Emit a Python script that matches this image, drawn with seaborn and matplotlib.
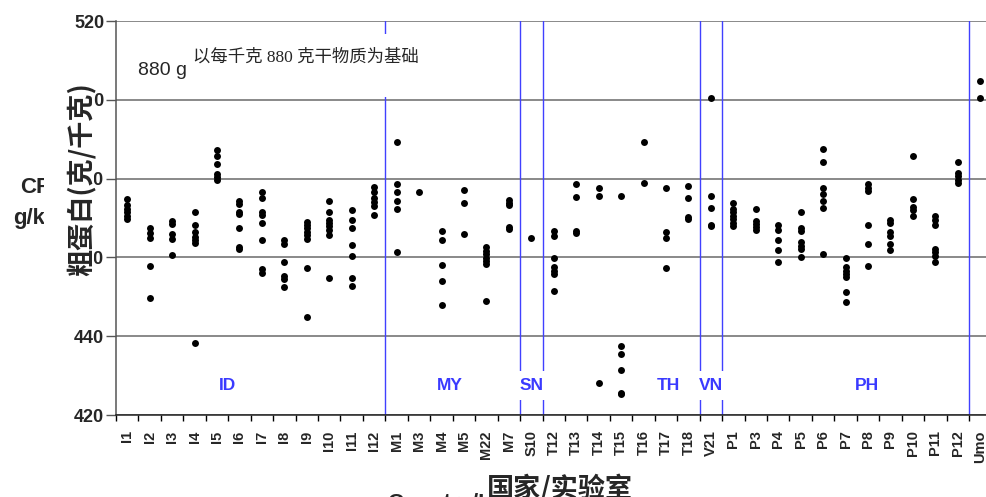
import matplotlib
matplotlib.use("Agg")
import matplotlib.pyplot as plt
import seaborn as sns
import pandas as pd
import numpy as np
from matplotlib.patches import Rectangle

# ---------------- data ----------------
labs = ["I1", "I2", "I3", "I4", "I5", "I6", "I7", "I8", "I9", "I10", "I11", "I12",
        "M1", "M3", "M4", "M5", "M22", "M7", "S10",
        "T12", "T13", "T14", "T15", "T16", "T17", "T18", "V21",
        "P1", "P3", "P4", "P5", "P6", "P7", "P8", "P9", "P10", "P11", "P12", "Umo"]

I1 = [474.7, 473.4, 472.4, 471.5, 470.6, 469.8]
I2 = [467.4, 466.2, 465.0, 457.9, 449.7]
I3 = [469.3, 468.5, 465.9, 464.6, 460.7]
I4 = [471.4, 468.2, 466.4, 465.3, 464.4, 463.6, 438.2]
I5 = [487.2, 485.7, 483.6, 481.1, 480.3, 479.6]
I6 = [474.3, 473.6, 471.6, 471.1, 467.5, 462.6, 462.1]
I7 = [476.5, 475.2, 471.6, 470.8, 468.7, 464.3, 457.0, 456.0]
I8 = [464.3, 463.5, 458.9, 455.3, 454.5, 452.6]
I9 = [469.1, 468.2, 467.4, 466.5, 465.7, 464.7, 457.4, 445.0]
I10 = [474.2, 471.4, 469.6, 468.7, 467.9, 467.0, 465.7, 454.8]
I11 = [472.1, 469.6, 467.4, 463.1, 460.4, 454.7, 452.8]
I12 = [477.9, 476.5, 475.2, 474.0, 473.0, 470.8]
M1 = [489.4, 478.7, 476.7, 474.3, 472.3, 461.3]
M3 = [476.7]
M4 = [466.7, 464.5, 458.1, 454.0, 447.9]
M5 = [477.0, 473.8, 466.0]
M22 = [462.6, 461.6, 460.8, 459.9, 459.1, 458.2, 448.9]
M7 = [474.5, 473.8, 473.2, 467.7, 467.3]
S10 = [464.8]
T12 = [466.8, 465.4, 459.9, 457.6, 456.6, 455.9, 451.4]
T13 = [478.7, 475.3, 466.7, 466.2]
T14 = [477.7, 475.7, 428.1]
T15 = [475.7, 437.5, 435.5, 431.3, 425.7, 425.3]
T16 = [489.2, 478.9]
T17 = [477.7, 466.4, 465.0, 457.4]
T18 = [478.1, 475.2, 470.3, 469.7]
V21 = [500.4, 475.7, 472.5, 468.2, 467.9]
P1 = [473.8, 472.3, 471.4, 470.6, 469.7, 468.7, 467.9]
P3 = [472.3, 469.2, 468.4, 467.7, 467.0]
P4 = [468.2, 467.0, 464.5, 461.8, 458.9]
P5 = [471.4, 467.5, 466.7, 464.0, 463.0, 462.1, 460.1]
P6 = [487.5, 484.3, 477.7, 476.2, 474.3, 472.5, 460.9]
P7 = [459.8, 457.5, 456.5, 455.8, 455.0, 451.1, 448.6]
P8 = [478.6, 477.7, 476.9, 468.2, 463.5, 457.9]
P9 = [469.4, 468.7, 466.4, 465.5, 463.3, 461.9]
P10 = [485.8, 474.7, 472.8, 472.1, 470.6]
P11 = [470.4, 469.6, 468.1, 462.1, 461.4, 460.4, 458.9]
P12 = [484.3, 481.4, 480.6, 479.6, 478.9]
Umo = [504.7, 500.4]

values = [I1, I2, I3, I4, I5, I6, I7, I8, I9, I10, I11, I12,
          M1, M3, M4, M5, M22, M7, S10,
          T12, T13, T14, T15, T16, T17, T18, V21,
          P1, P3, P4, P5, P6, P7, P8, P9, P10, P11, P12, Umo]

group_names = ["ID", "MY", "SN", "TH", "VN", "PH"]
group_label_pos = [4.45, 14.35, 18.0, 24.1, 26.0, 32.95]
group_bounds = [11.5, 17.5, 18.5, 25.5, 26.5, 37.5]

yticks = [420, 440, 460, 480, 500, 520]

df = pd.DataFrame({
    "lab": [lab for lab, vals in zip(labs, values) for _ in vals],
    "cp": [v for vals in values for v in vals],
})

# ---------------- figure ----------------
sns.set_style("white")
plt.rcParams["font.family"] = ["Liberation Sans", "DejaVu Sans"]

W, H = 986, 497
fig = plt.figure(figsize=(W / 100, H / 100), dpi=100)


def fx(x):
    return x / W


def fy(y):
    return 1 - y / H


ax_left, ax_right, ax_top, ax_bot = 116, 991.5, 21, 415
ax = fig.add_axes([fx(ax_left), fy(ax_bot), (ax_right - ax_left) / W, (ax_bot - ax_top) / H])

sns.stripplot(data=df, x="lab", y="cp", order=labs, jitter=False, color="black",
              size=5.0, linewidth=0, ax=ax, zorder=4)

ax.set_xlim(-0.5, len(labs) - 0.5)
ax.set_ylim(420, 520)
ax.set_xlabel("")
ax.set_ylabel("")

# x ticks: labels centred, tick marks at boundaries
ax.set_xticks(range(len(labs)))
ax.set_xticklabels(labs, rotation=90, fontsize=10.5, fontweight="bold")
ax.set_xticks(np.arange(-0.5, len(labs), 1), minor=True)
ax.tick_params(axis="x", which="major", length=0, pad=11)
ax.tick_params(axis="x", which="minor", length=4.5, width=1, color="black", direction="out", bottom=True)

ax.set_yticks(yticks)
ax.set_yticklabels([str(t) for t in yticks], fontsize=13, fontweight="bold")
ax.tick_params(axis="y", which="major", length=7, width=1, color="#555555", direction="out", pad=1.5, left=True)

ax.yaxis.grid(True, color="#6a6a6a", linewidth=1.1, zorder=0)
ax.xaxis.grid(False)
ax.set_axisbelow(True)
for s in ["top", "right"]:
    ax.spines[s].set_visible(False)
ax.spines["left"].set_color("#555555")
ax.spines["left"].set_linewidth(1.1)
ax.spines["bottom"].set_color("#222222")
ax.spines["bottom"].set_linewidth(1.1)

for b in group_bounds:
    ax.axvline(b, color="#4040ff", linewidth=1.0, zorder=2)

for name, pos in zip(group_names, group_label_pos):
    ax.text(pos, 427.5, name, color="#3a3aff", fontsize=12.5, fontweight="bold",
            ha="center", va="center", zorder=6,
            bbox=dict(facecolor="white", edgecolor="none", pad=5))

# ---- top-left annotation: English underneath, Chinese with white box on top ----
fig.text(fx(138), fy(75), "880 g DM/kg basis", fontsize=14, ha="left", va="baseline", zorder=10)
fig.add_artist(Rectangle((fx(192), fy(97)), fx(421) - fx(192), fy(34) - fy(97),
                         transform=fig.transFigure, facecolor="white", edgecolor="none", zorder=11))
fig.text(fx(193), fy(57), "以每千克 880 克干物质为基础", fontsize=12.5,
         family=["Liberation Serif", "Noto Sans CJK SC"], ha="left", va="center", zorder=12)

# ---- y label: English underneath, Chinese with white box on top ----
fig.text(fx(36), fy(203), "CP\ng/kg", fontsize=16, fontweight="bold", ha="center", va="center",
         multialignment="center", linespacing=1.6, zorder=10)
fig.add_artist(Rectangle((fx(44), fy(283)), fx(94) - fx(44), fy(80) - fy(283),
                         transform=fig.transFigure, facecolor="white", edgecolor="none", zorder=11))
fig.text(fx(81), fy(179), "粗蛋白(克/千克)", fontsize=19.5, fontweight="bold", rotation=90,
         family=["Noto Sans CJK SC", "DejaVu Sans"], ha="center", va="center", zorder=12)

# ---- x label: English underneath, Chinese with white box on top ----
fig.text(fx(387), fy(490), "Country/Laboratory", fontsize=16, fontweight="bold", ha="left", va="baseline",
         zorder=10, transform=fig.transFigure)
fig.texts[-1].set_position((fx(387), fy(509)))
fig.text(fx(560), fy(474), "国家/实验室", fontsize=19.5, fontweight="bold",
         family=["Noto Sans CJK SC", "DejaVu Sans"], ha="center", va="top", zorder=12,
         bbox=dict(facecolor="white", edgecolor="none", pad=2))

fig.savefig("out.png", dpi=100)
